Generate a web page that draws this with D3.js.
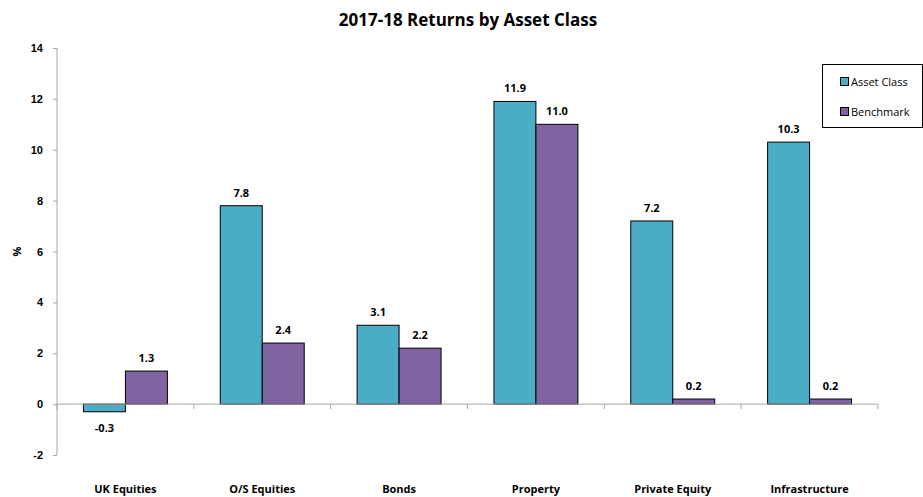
<!DOCTYPE html>
<html>
<head>
<meta charset="utf-8">
<script src="https://cdn.jsdelivr.net/npm/d3@7"></script>
<style>
  body { margin: 0; background: #fff; }
  svg { font-family: "Open Sans", "Noto Sans", sans-serif; }
  .axis path, .axis line { stroke: #a6a6a6; }
  .axis text { font-weight: bold; font-size: 11px; fill: #000; }
</style>
</head>
<body>
<svg></svg>
<script>
let categories = ["UK Equities", "O/S Equities", "Bonds", "Property", "Private Equity", "Infrastructure"]
let seriesNames = ["Asset Class", "Benchmark"]
let assetClass = [-0.3, 7.8, 3.1, 11.9, 7.2, 10.3]
let benchmark = [1.3, 2.4, 2.2, 11.0, 0.2, 0.2]
let yTicks = [-2, 0, 2, 4, 6, 8, 10, 12, 14]
let colors = ["#4bacc6", "#8064a2"]

let width = 923
let height = 497
let plotLeft = 57, plotRight = 878, plotTop = 48, plotBottom = 455

let svg = d3.select("svg").attr("width", width).attr("height", height)

let xScale = d3.scaleBand().domain(categories).range([plotLeft, plotRight])
let subScale = d3.scaleBand().domain(seriesNames).range([0, xScale.bandwidth()]).paddingOuter(0.63)
let yScale = d3.scaleLinear().domain([-2, 14]).range([plotBottom, plotTop])

// title
svg.append("text")
  .attr("x", 468).attr("y", 26)
  .attr("text-anchor", "middle")
  .style("font-weight", "bold").style("font-size", "17px")
  .text("2017-18 Returns by Asset Class")

// y axis
let yAxis = d3.axisLeft(yScale).tickValues(yTicks).tickFormat(d => String(d)).tickSize(4).tickPadding(10)
svg.append("g").attr("class", "axis").attr("transform", "translate(" + plotLeft + ",0)").call(yAxis)
  .select(".domain").attr("d", "M0," + plotTop + "V" + plotBottom)

svg.append("text")
  .attr("transform", "translate(21," + ((plotTop + plotBottom) / 2) + ") rotate(-90)")
  .attr("text-anchor", "middle")
  .style("font-weight", "bold").style("font-size", "11px")
  .text("%")

// bars
let rows = categories.map((c, i) => ({ cat: c, values: [assetClass[i], benchmark[i]] }))

let groups = svg.selectAll(".grp").data(rows).enter().append("g")
  .attr("class", "grp")
  .attr("transform", d => "translate(" + xScale(d.cat) + ",0)")

groups.selectAll("rect")
  .data(d => d.values.map((v, j) => ({ name: seriesNames[j], v: v, j: j })))
  .enter().append("rect")
  .attr("x", d => subScale(d.name))
  .attr("width", subScale.bandwidth())
  .attr("y", d => yScale(Math.max(0, d.v)))
  .attr("height", d => Math.abs(yScale(d.v) - yScale(0)))
  .attr("fill", d => colors[d.j])
  .attr("stroke", "#000").attr("stroke-width", 1)

groups.selectAll(".lbl")
  .data(d => d.values.map((v, j) => ({ name: seriesNames[j], v: v })))
  .enter().append("text")
  .attr("class", "lbl")
  .attr("x", d => subScale(d.name) + subScale.bandwidth() / 2)
  .attr("y", d => d.v >= 0 ? yScale(d.v) - 9 : yScale(d.v) + 20)
  .attr("text-anchor", "middle")
  .style("font-weight", "bold").style("font-size", "11px")
  .text(d => d.v.toFixed(1))

// x axis at zero
let xAxisG = svg.append("g").attr("class", "axis").attr("transform", "translate(0," + yScale(0) + ")")
xAxisG.append("line").attr("x1", plotLeft).attr("x2", plotRight).attr("y1", 0).attr("y2", 0)
xAxisG.selectAll(".tk").data(categories.concat(["end"])).enter().append("line")
  .attr("x1", (d, i) => plotLeft + i * xScale.bandwidth())
  .attr("x2", (d, i) => plotLeft + i * xScale.bandwidth())
  .attr("y1", 0).attr("y2", 5)

svg.append("g").attr("class", "axis")
  .selectAll("text").data(categories).enter().append("text")
  .attr("x", d => xScale(d) + xScale.bandwidth() / 2)
  .attr("y", 493)
  .attr("text-anchor", "middle")
  .text(d => d)

// legend
let legend = svg.append("g")
legend.append("rect").attr("x", 822.5).attr("y", 64.5).attr("width", 100).attr("height", 63)
  .attr("fill", "#fff").attr("stroke", "#000")
seriesNames.forEach((s, i) => {
  legend.append("rect").attr("x", 840.5).attr("y", 77.5 + i * 30).attr("width", 8).attr("height", 8)
    .attr("fill", colors[i]).attr("stroke", "#000")
  legend.append("text").attr("x", 851).attr("y", 86 + i * 30)
    .style("font-size", "11px").text(s)
})
</script>
</body>
</html>
